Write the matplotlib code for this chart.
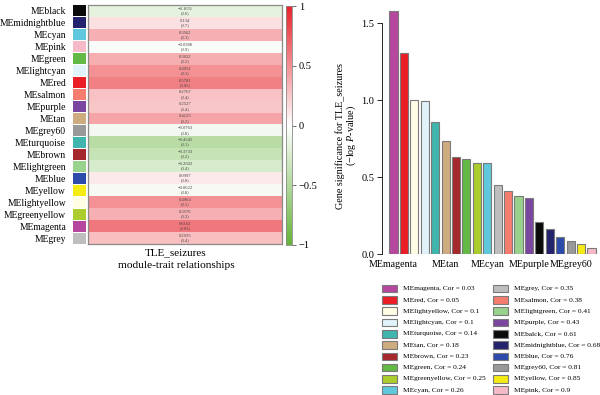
import matplotlib
matplotlib.use("Agg")
import matplotlib.pyplot as plt
import numpy as np
from matplotlib.colors import LinearSegmentedColormap
from matplotlib.patches import Rectangle

plt.rcParams['font.family'] = ['Liberation Serif', 'DejaVu Serif']
plt.rcParams['mathtext.fontset'] = 'custom'
plt.rcParams['mathtext.rm'] = 'Liberation Serif'
plt.rcParams['mathtext.it'] = 'Liberation Serif:italic'

# ---------------- data ----------------
hm_modules = ["MEblack", "MEmidnightblue", "MEcyan", "MEpink", "MEgreen", "MElightcyan",
              "MEred", "MEsalmon", "MEpurple", "MEtan", "MEgrey60", "MEturquoise",
              "MEbrown", "MElightgreen", "MEblue", "MEyellow", "MElightyellow",
              "MEgreenyellow", "MEmagenta", "MEgrey"]
hm_cor = [-0.1651, 0.134, 0.3562, -0.0388, 0.3652, 0.4951, 0.5781, 0.2767, 0.2527, 0.4123,
          -0.0763, -0.4545, -0.3733, -0.2602, 0.0997, -0.0622, 0.4964, 0.3576, 0.6162, 0.2935]
hm_p = ["0.6", "0.7", "0.3", "0.9", "0.2", "0.1", "0.05", "0.4", "0.4", "0.2",
        "0.8", "0.1", "0.2", "0.4", "0.8", "0.8", "0.1", "0.3", "0.03", "0.4"]
hm_trait = "TLE_seizures"

bar_modules = ["MEmagenta", "MEred", "MElightyellow", "MElightcyan", "MEturquoise", "MEtan",
               "MEbrown", "MEgreen", "MEgreenyellow", "MEcyan", "MEgrey", "MEsalmon",
               "MElightgreen", "MEpurple", "MEbalck", "MEmidnightblue", "MEblue", "MEgrey60",
               "MEyellow", "MEpink"]
bar_values = [1.576, 1.305, 1.0, 0.995, 0.858, 0.735, 0.633, 0.616, 0.594, 0.59,
              0.447, 0.41, 0.377, 0.364, 0.21, 0.163, 0.113, 0.085, 0.065, 0.037]
bar_cor = ["0.03", "0.05", "0.1", "0.1", "0.14", "0.18", "0.23", "0.24", "0.25", "0.26",
           "0.35", "0.38", "0.41", "0.43", "0.61", "0.68", "0.76", "0.81", "0.85", "0.9"]
bar_xticklabels = {0: "MEmagenta", 5: "MEtan", 9: "MEcyan", 13: "MEpurple", 17: "MEgrey60"}

colors = {
    "MEmagenta": "#b5479f", "MEred": "#e91e27", "MElightyellow": "#fffde3",
    "MElightcyan": "#e0f3fa", "MEturquoise": "#3fb5ad", "MEtan": "#cfab80",
    "MEbrown": "#a5282d", "MEgreen": "#63b946", "MEgreenyellow": "#abcd2d",
    "MEcyan": "#5fc8dc", "MEgrey": "#bebebe", "MEsalmon": "#f47d6f",
    "MElightgreen": "#98d28c", "MEpurple": "#7a46a0", "MEblack": "#0a0a0a",
    "MEbalck": "#0a0a0a", "MEmidnightblue": "#24236e", "MEblue": "#2d4bab",
    "MEgrey60": "#999999", "MEyellow": "#f5eb14", "MEpink": "#f5b9c8",
}

W, H = 600, 395
fig = plt.figure(figsize=(W / 100, H / 100), dpi=100)


def ax_px(x0, y0, x1, y1):
    return fig.add_axes([x0 / W, 1 - y1 / H, (x1 - x0) / W, (y1 - y0) / H])


cmap = LinearSegmentedColormap.from_list("gwr", ["#66b43a", "#ffffff", "#e8232b"])
edge_grey = "#8a8a8a"

# ---------------- heatmap ----------------
n = len(hm_modules)
ax_sw = ax_px(73, 5, 86, 244)
for i, m in enumerate(hm_modules):
    ax_sw.add_patch(Rectangle((0, i + 0.04), 1, 0.92, color=colors[m], lw=0))
ax_sw.set_xlim(0, 1)
ax_sw.set_ylim(n, 0)
ax_sw.set_yticks(np.arange(n) + 0.5)
ax_sw.set_yticklabels(hm_modules, fontsize=6.9)
ax_sw.tick_params(axis='y', length=0, pad=5)
ax_sw.set_xticks([])
for s in ax_sw.spines.values():
    s.set_visible(False)

ax_hm = ax_px(88, 5, 282, 244)
vals = np.array(hm_cor).reshape(-1, 1)
ax_hm.imshow(vals, cmap=cmap, vmin=-1, vmax=1, aspect='auto', interpolation='nearest')
for i, (c, p) in enumerate(zip(hm_cor, hm_p)):
    txt = f"{c:.4g}".replace("-", "\u2212")
    ax_hm.text(0, i, f"{txt}\n({p})", ha='center', va='center', fontsize=3.3,
               color="#444444", linespacing=1.1)
ax_hm.set_xticks([])
ax_hm.set_yticks([])
for s in ax_hm.spines.values():
    s.set_color(edge_grey)
    s.set_linewidth(0.9)

fig.text(176 / W, 1 - 253 / H, hm_trait, ha='center', va='center', fontsize=8)
fig.text(176 / W, 1 - 265 / H, "module-trait relationships", ha='center', va='center', fontsize=8.2)

# colorbar
ax_cb = ax_px(286, 6, 292, 245)
grad = np.linspace(1, -1, 256).reshape(-1, 1)
ax_cb.imshow(grad, cmap=cmap, vmin=-1, vmax=1, aspect='auto',
             extent=[0, 1, -1, 1])
ax_cb.set_xticks([])
ax_cb.yaxis.tick_right()
cb_ticks = [-1, -0.5, 0, 0.5, 1]
ax_cb.set_yticks(cb_ticks)
ax_cb.set_yticklabels(["\u22121", "\u22120.5", "0", "0.5", "1"], fontsize=7.5)
ax_cb.tick_params(axis='y', length=3, width=0.6, pad=2, color="#555555")
for s in ax_cb.spines.values():
    s.set_color(edge_grey)
    s.set_linewidth(0.6)

# ---------------- bar chart ----------------
nb = len(bar_values)
ax_b = ax_px(382, 5, 600, 254)
x = np.arange(nb)
ax_b.bar(x, bar_values, width=0.78, color=[colors[m] for m in bar_modules],
         edgecolor="#7a7a7a", linewidth=0.8)
ax_b.set_xlim(-1.1, nb - 1 + 0.82)
ax_b.set_ylim(0, 1.617)
ax_b.set_yticks([0, 0.5, 1.0, 1.5])
ax_b.set_yticklabels(["0.0", "0.5", "1.0", "1.5"], fontsize=7.5)
ax_b.tick_params(axis='y', length=3.5, width=0.6, pad=2)
ax_b.set_xticks(list(bar_xticklabels.keys()))
ax_b.set_xticklabels(list(bar_xticklabels.values()), fontsize=7.2)
ax_b.tick_params(axis='x', length=0, pad=4)
for k in ["top", "right", "bottom"]:
    ax_b.spines[k].set_visible(False)
ax_b.spines["left"].set_bounds(0, 1.5)
ax_b.spines["left"].set_linewidth(0.6)
ax_b.patch.set_alpha(0)

fig.text(340 / W, 1 - 136 / H, "Gene significance for TLE_seizures",
         rotation=90, ha='center', va='center', fontsize=7.3)
fig.text(351 / W, 1 - 136 / H, "(\u2212log $\\mathit{P}$-value)",
         rotation=90, ha='center', va='center', fontsize=7.3)

# ---------------- legend ----------------
ax_l = fig.add_axes([0, 0, 1, 1])
ax_l.set_xlim(0, W)
ax_l.set_ylim(H, 0)
ax_l.axis('off')
ncol_rows = 10
for i, (m, c) in enumerate(zip(bar_modules, bar_cor)):
    col, row = divmod(i, ncol_rows)
    x0 = 382 + col * 111
    yc = 288.5 + row * 11.3
    ax_l.add_patch(Rectangle((x0, yc - 3.8), 15, 7.6, facecolor=colors[m],
                             edgecolor="#7a7a7a", lw=0.8))
    ax_l.text(x0 + 21, yc, f"{m}, Cor = {c}", ha='left', va='center', fontsize=5.3)

fig.savefig("out.png", dpi=100)
